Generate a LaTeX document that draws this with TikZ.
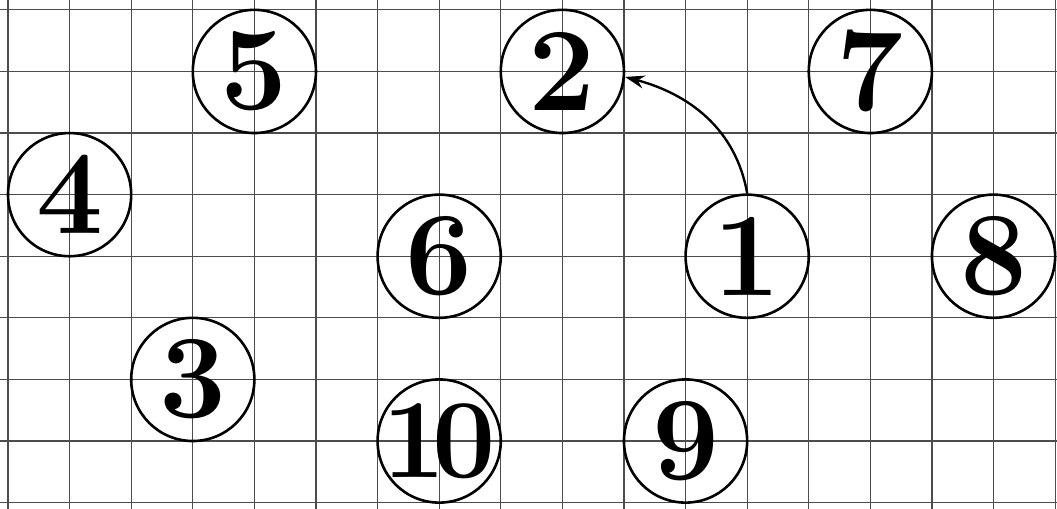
\documentclass[tikz,border=0pt]{standalone}
\usepackage{tikz}
\usetikzlibrary{arrows.meta}

\begin{document}
\begin{tikzpicture}[x=1cm, y=1cm,
    ball/.style={circle, draw, line width=1.2pt, minimum size=2cm, inner sep=0pt,
        font=\fontsize{55}{55}\selectfont\bfseries}]
    \useasboundingbox (-0.13,-0.1) rectangle (17.03,8.16);

    % Draw the squared paper
    \draw[black!70, line width=0.5pt] (-0.13,-0.1) grid (17.03,8.16);

    % Place the numbered circles
    \node[ball] (N5) at (4,7) {5};
    \node[ball] (N2) at (9,7) {2};
    \node[ball] (N7) at (14,7) {7};
    \node[ball] (N4) at (1,5) {4};
    \node[ball] (N6) at (7,4) {6};
    \node[ball] (N1) at (12,4) {1};
    \node[ball] (N8) at (16,4) {8};
    \node[ball] (N3) at (3,2) {3};
    \node[ball] (N10) at (7,1) {\makebox[0pt]{\fontsize{52}{52}\selectfont 1\kern-0.12em 0}};
    \node[ball] (N9) at (11,1) {9};

    % Draw the arrow
    \draw[-{Stealth[length=9pt, width=6pt]}, line width=1.1pt] (N1.north) to[out=100, in=-15] (N2.-5);
\end{tikzpicture}
\end{document}
